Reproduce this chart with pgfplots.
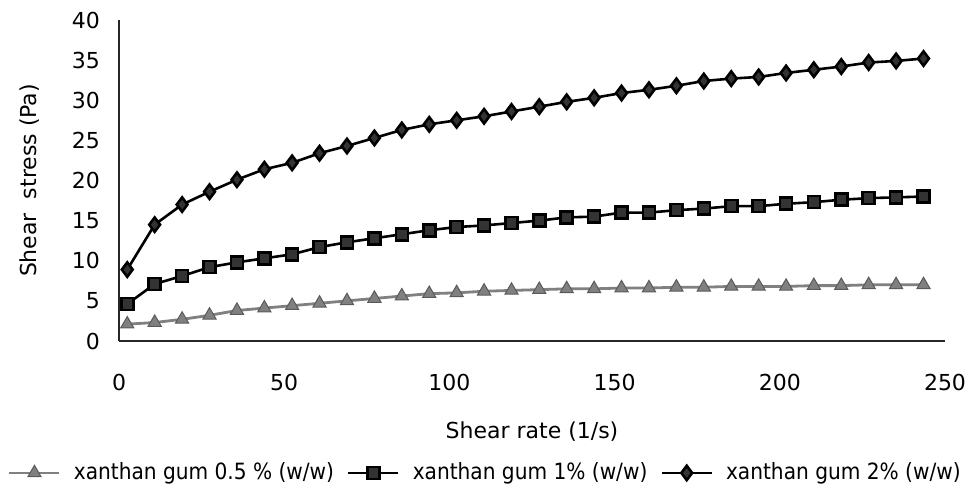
\documentclass[border=0pt]{standalone}
\usepackage{fontspec}
\setmainfont{DejaVu Sans}
\newfontfamily\condfont{DejaVu Sans Condensed}
\usepackage{pgfplots}
\pgfplotsset{compat=1.18}
\definecolor{tri}{HTML}{808080}
\begin{document}
\begin{tikzpicture}
\begin{axis}[
  scale only axis,
  width=413pt, height=160.5pt,
  xmin=0, xmax=250, ymin=0, ymax=40,
  axis x line=bottom, axis y line=left,
  axis line style={-, line width=0.9pt, black!85},
  xtick={0,50,100,150,200,250},
  ytick={0,5,10,15,20,25,30,35,40},
  major tick length=0pt,
  /pgf/number format/assume math mode=true,
  ticklabel style={font=\fontsize{11}{13}\selectfont},
  xticklabel style={yshift=-13pt},
  yticklabel style={xshift=-6pt},
  xlabel={Shear rate (1/s)},
  ylabel={Shear\ \ stress (Pa)},
  label style={font=\fontsize{11}{13}\selectfont},
  xlabel style={at={(axis description cs:0.5,-0.283)}, anchor=center},
  ylabel style={at={(axis description cs:-0.108,0.5)}, anchor=center, rotate=0},
  legend columns=3,
  legend style={draw=none, fill=none, at={(axis description cs:0.443,-0.411)}, anchor=center,
    font=\condfont\fontsize{11.2}{13}\selectfont, column sep=6pt, inner sep=0pt,
    nodes={inner xsep=0.5pt}},
  legend image code/.code={\draw[#1] (0pt,0pt) -- (25pt,0pt); \draw[#1, only marks] plot coordinates {(12.5pt,0pt)};},
]
\addplot[color=tri, line width=1.4pt, mark=triangle*, mark size=3.8pt, mark options={fill=tri, draw=tri!70!black, line width=0.5pt}] coordinates {
(2.5,2.1) (10.8,2.3) (19.1,2.7) (27.4,3.2) (35.7,3.8) (44.0,4.1) (52.4,4.4) (60.7,4.7) (69.0,5.0) (77.3,5.3)
(85.6,5.6) (93.9,5.9) (102.2,6.0) (110.5,6.2) (118.8,6.3) (127.2,6.4) (135.5,6.5) (143.8,6.5) (152.1,6.6) (160.4,6.6)
(168.7,6.7) (177.0,6.7) (185.3,6.8) (193.6,6.8) (201.9,6.8) (210.3,6.9) (218.6,6.9) (226.9,7.0) (235.2,7.0) (243.5,7.0)
};
\addlegendentry{xanthan gum 0.5 \% (w/w)}
\addplot[color=black, line width=1.3pt, mark=square*, mark size=3pt, mark options={fill=black!80}] coordinates {
(2.5,4.6) (10.8,7.1) (19.1,8.1) (27.4,9.2) (35.7,9.8) (44.0,10.3) (52.4,10.8) (60.7,11.7) (69.0,12.3) (77.3,12.8)
(85.6,13.3) (93.9,13.8) (102.2,14.2) (110.5,14.4) (118.8,14.7) (127.2,15.0) (135.5,15.4) (143.8,15.5) (152.1,16.0) (160.4,16.0)
(168.7,16.3) (177.0,16.5) (185.3,16.8) (193.6,16.8) (201.9,17.1) (210.3,17.3) (218.6,17.6) (226.9,17.8) (235.2,17.9) (243.5,18.0)
};
\addlegendentry{xanthan gum 1\% (w/w)}
\addplot[color=black, line width=1.3pt, mark=diamond*, mark size=3.6pt, mark options={fill=black!80}] coordinates {
(2.5,8.9) (10.8,14.5) (19.1,17.0) (27.4,18.6) (35.7,20.1) (44.0,21.4) (52.4,22.2) (60.7,23.4) (69.0,24.3) (77.3,25.3)
(85.6,26.3) (93.9,27.0) (102.2,27.5) (110.5,28.0) (118.8,28.6) (127.2,29.2) (135.5,29.8) (143.8,30.3) (152.1,30.9) (160.4,31.3)
(168.7,31.8) (177.0,32.4) (185.3,32.7) (193.6,32.9) (201.9,33.4) (210.3,33.8) (218.6,34.2) (226.9,34.7) (235.2,34.9) (243.5,35.2)
};
\addlegendentry{xanthan gum 2\% (w/w)}
\end{axis}
\pgfresetboundingbox
\path ([xshift=-59.5pt,yshift=-77pt]current axis.south west) rectangle ([xshift=11.5pt,yshift=10pt]current axis.north east);
\end{tikzpicture}
\end{document}
